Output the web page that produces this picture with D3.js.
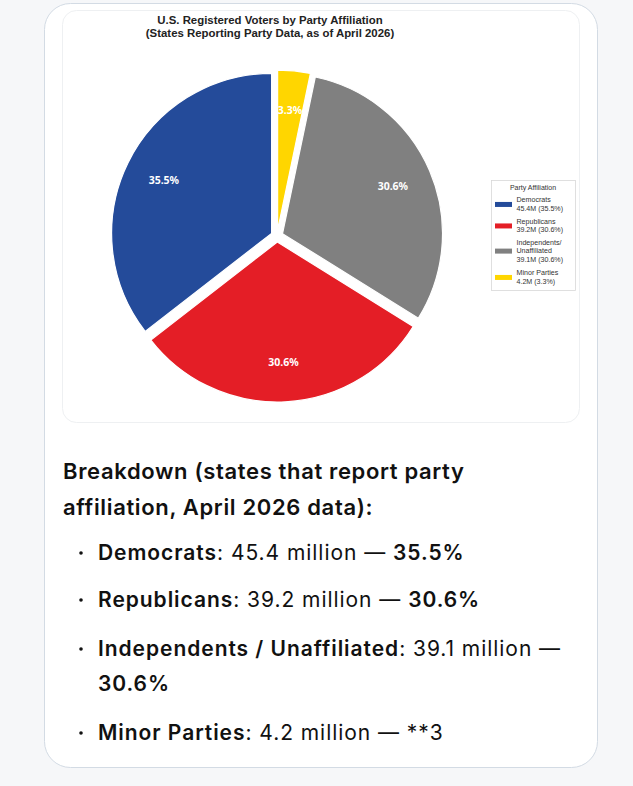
<!DOCTYPE html>
<html><head><meta charset="utf-8">
<script src="https://cdn.jsdelivr.net/npm/d3@7"></script>
<style>
html,body{margin:0;padding:0;background:#f6f7f9;}
svg{display:block;}
</style></head>
<body>
<svg id="c" width="633" height="786"></svg>
<script>
// ---- data ----
const categories = ["Democrats", "Republicans", "Independents/Unaffiliated", "Minor Parties"];
const legendLines = [["Democrats","45.4M (35.5%)"],["Republicans","39.2M (30.6%)"],["Independents/","Unaffiliated","39.1M (30.6%)"],["Minor Parties","4.2M (3.3%)"]];
const valuesMillions = [45.4, 39.2, 39.1, 4.2];
const percentLabels = ["35.5%", "30.6%", "30.6%", "3.3%"];
const colors = ["#244b9a", "#e41e26", "#808080", "#ffd600"];
const titleLines = ["U.S. Registered Voters by Party Affiliation", "(States Reporting Party Data, as of April 2026)"];
const heading = ["Breakdown (states that report party", "affiliation, April 2026 data):"];
const bullets = [
  [{t:"Democrats",b:true},{t:": 45.4 million — ",b:false},{t:"35.5%",b:true}],
  [{t:"Republicans",b:true},{t:": 39.2 million — ",b:false},{t:"30.6%",b:true}],
  [{t:"Independents / Unaffiliated",b:true},{t:": 39.1 million —",b:false}],
  [{t:"30.6%",b:true}],
  [{t:"Minor Parties",b:true},{t:": 4.2 million — **3",b:false}]
];
const bulletBaselines = [560, 607, 656, 691, 740];
const bulletHasDot = [true, true, true, false, true];

const svg = d3.select("#c");
// outer card
svg.append("rect").attr("x",44.5).attr("y",3.5).attr("width",553).attr("height",764)
  .attr("rx",26).attr("fill","#fff").attr("stroke","#d3dbe4").attr("stroke-width",1);
// inner chart card
svg.append("rect").attr("x",62.5).attr("y",10.5).attr("width",517).attr("height",412)
  .attr("rx",14).attr("fill","#fff").attr("stroke","#eef0f2").attr("stroke-width",1);

// title
const chartFont = "'Noto Sans', 'Open Sans', sans-serif";
const legendFont = "'Liberation Sans', Arial, sans-serif";
svg.append("g").selectAll("text").data(titleLines).join("text")
  .attr("x",270).attr("y",(d,i)=>24+i*13).attr("text-anchor","middle")
  .attr("font-family",legendFont).attr("font-weight",700).attr("font-size",11.4)
  .attr("fill","#222").text(d=>d);

// pie
const cx = 277, cy = 236, R = 160, explode = 6;
const pie = d3.pie().sort(null).startAngle(0).endAngle(-2*Math.PI);
const arcs = pie(valuesMillions);
const arc = d3.arc().innerRadius(0).outerRadius(R);
const g = svg.append("g").attr("transform",`translate(${cx},${cy})`);
const slice = g.selectAll("g.s").data(arcs).join("g").attr("class","s")
  .attr("transform", d => {
    const a = (d.startAngle + d.endAngle)/2;
    return `translate(${explode*Math.sin(a)},${-explode*Math.cos(a)})`;
  });
slice.append("path").attr("d",arc).attr("fill",(d,i)=>colors[i])
  .attr("stroke","#fff").attr("stroke-width",1.2);
slice.append("text")
  .attr("transform", d => {
    const a = (d.startAngle + d.endAngle)/2;
    return `translate(${0.75*R*Math.sin(a)},${-0.75*R*Math.cos(a)})`;
  })
  .attr("text-anchor","middle").attr("dy","0.35em")
  .attr("font-family",chartFont).attr("font-weight",700).attr("font-size",10.5)
  .attr("fill","#fff").text((d,i)=>percentLabels[i]);

// legend
const lg = svg.append("g");
lg.append("rect").attr("x",491.5).attr("y",180.5).attr("width",84).attr("height",110)
  .attr("fill","#fff").attr("stroke","#d8d8d8").attr("stroke-width",0.8);
lg.append("text").attr("x",533).attr("y",189.5).attr("text-anchor","middle")
  .attr("font-family",legendFont).attr("font-size",7).attr("fill","#333").text("Party Affiliation");
const entryTop = [200, 221.5, 242.5, 273];
const pitch = 8.3;
legendLines.forEach((lines,i)=>{
  const n = lines.length;
  const mid = entryTop[i] + (n-1)*pitch/2;
  lg.append("rect").attr("x",495).attr("y",mid-2.2).attr("width",17).attr("height",5).attr("fill",colors[i]);
  lg.append("g").selectAll("text").data(lines).join("text")
    .attr("x",516.5).attr("y",(d,j)=>entryTop[i]+j*pitch).attr("dy","0.35em")
    .attr("font-family",legendFont).attr("font-size",7.1).attr("fill","#333").text(d=>d);
});

// text below
const textFont = "Inter, 'Noto Sans', sans-serif";
svg.append("g").selectAll("text").data(heading).join("text")
  .attr("x",63).attr("y",(d,i)=>479+i*36)
  .attr("font-family",textFont).attr("font-weight",600).attr("font-size",22)
  .attr("letter-spacing",0.65)
  .attr("fill","#111").text(d=>d);

bullets.forEach((parts,i)=>{
  const y = bulletBaselines[i];
  if (bulletHasDot[i]) svg.append("circle").attr("cx",81).attr("cy",y-7).attr("r",1.8).attr("fill","#111");
  const t = svg.append("text").attr("x",98).attr("y",y)
    .attr("font-family",textFont).attr("font-size",21).attr("letter-spacing",0.95).attr("fill","#111");
  parts.forEach(p=>t.append("tspan").attr("font-weight",p.b?600:400).text(p.t));
});
</script>
</body></html>
